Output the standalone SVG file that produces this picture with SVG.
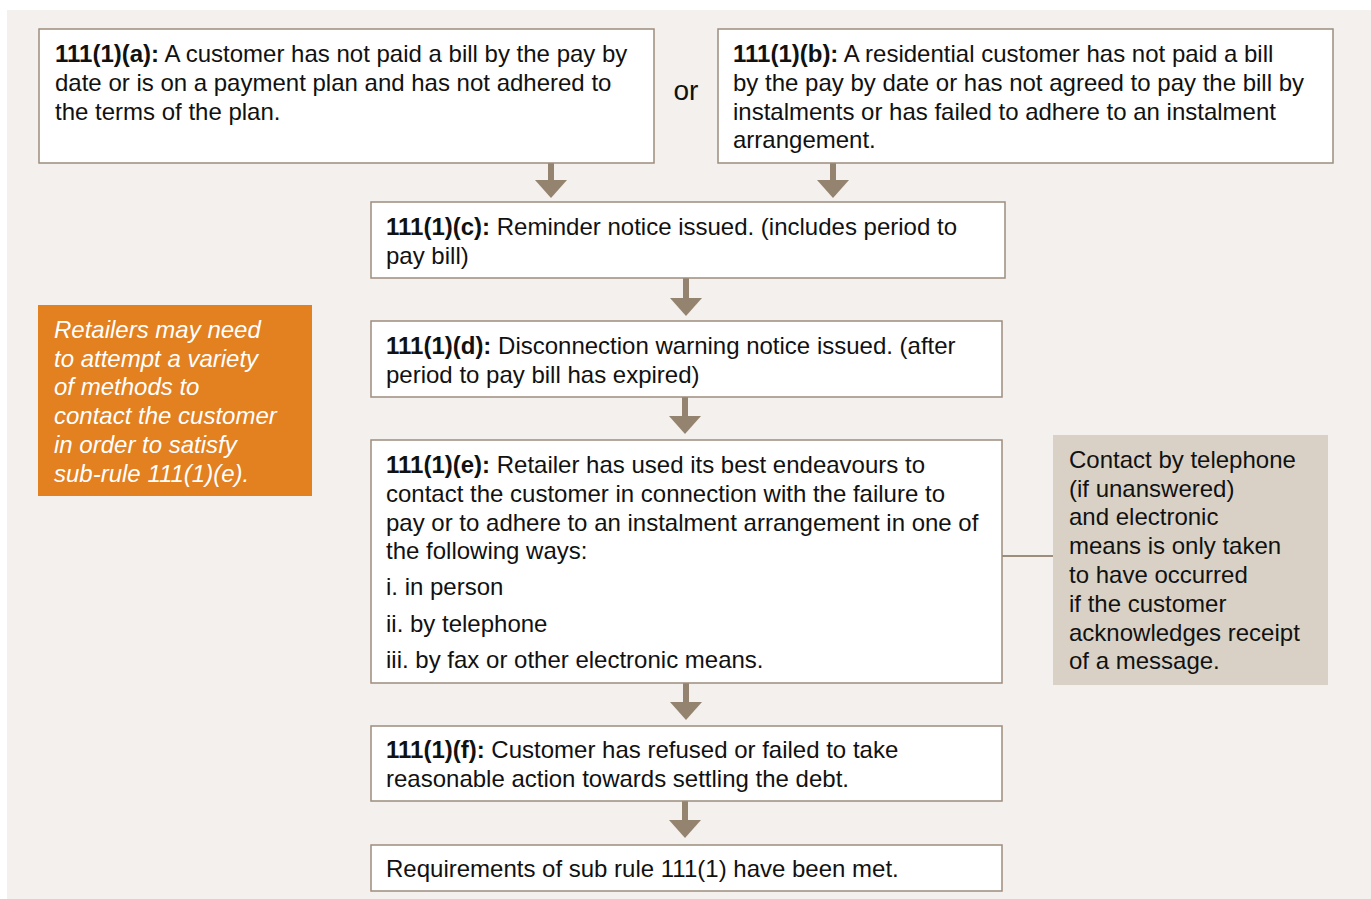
<svg xmlns="http://www.w3.org/2000/svg" width="1371" height="899" viewBox="0 0 1371 899">
<defs>
<style>
.box{fill:#ffffff;stroke:#9d8d7d;stroke-width:1.5}
.t{font-family:"Liberation Sans",Arial,sans-serif;font-size:24px;fill:#111111}
.b{font-weight:bold}
.or{font-family:"Liberation Sans",Arial,sans-serif;font-size:28px;fill:#111111}
.o{font-family:"Liberation Sans",Arial,sans-serif;font-size:24px;fill:#ffffff;font-style:italic}
.shaft{stroke:#94836f;stroke-width:6;fill:none}
.head{fill:#94836f}
</style>
</defs>
<rect x="0" y="0" width="1371" height="899" fill="#ffffff"/>
<rect x="7" y="10" width="1364" height="889" fill="#f4f0ed"/>

<g id="connectors">
<line class="shaft" x1="551" y1="163" x2="551" y2="182"/>
<polygon class="head" points="535,180 567,180 551,198"/>
<line class="shaft" x1="833" y1="163" x2="833" y2="182"/>
<polygon class="head" points="817,180 849,180 833,198"/>
<line class="shaft" x1="686" y1="278" x2="686" y2="300"/>
<polygon class="head" points="670,298 702,298 686,316"/>
<line class="shaft" x1="685" y1="397" x2="685" y2="418"/>
<polygon class="head" points="669,416 701,416 685,434"/>
<line class="shaft" x1="686" y1="683" x2="686" y2="704"/>
<polygon class="head" points="670,702 702,702 686,720"/>
<line class="shaft" x1="685" y1="801" x2="685" y2="822"/>
<polygon class="head" points="669,820 701,820 685,838"/>
<line x1="1002" y1="556" x2="1053" y2="556" stroke="#9d8d7d" stroke-width="2"/>
</g>

<g id="node-a">
<rect class="box" x="39" y="29" width="615" height="134"/>
<text class="t" x="55" y="62"><tspan class="b">111(1)(a):</tspan> A customer has not paid a bill by the pay by</text>
<text class="t" x="55" y="91">date or is on a payment plan and has not adhered to</text>
<text class="t" x="55" y="120">the terms of the plan.</text>
</g>

<g id="or-label">
<text class="or" x="686" y="100" text-anchor="middle">or</text>
</g>

<g id="node-b">
<rect class="box" x="718" y="29" width="615" height="134"/>
<text class="t" x="733" y="62"><tspan class="b">111(1)(b):</tspan> A residential customer has not paid a bill</text>
<text class="t" x="733" y="91">by the pay by date or has not agreed to pay the bill by</text>
<text class="t" x="733" y="120">instalments or has failed to adhere to an instalment</text>
<text class="t" x="733" y="148">arrangement.</text>
</g>

<g id="node-c">
<rect class="box" x="371" y="202" width="634" height="76"/>
<text class="t" x="386" y="235"><tspan class="b">111(1)(c):</tspan> Reminder notice issued. (includes period to</text>
<text class="t" x="386" y="264">pay bill)</text>
</g>

<g id="node-d">
<rect class="box" x="371" y="321" width="631" height="76"/>
<text class="t" x="386" y="354"><tspan class="b">111(1)(d):</tspan> Disconnection warning notice issued. (after</text>
<text class="t" x="386" y="383">period to pay bill has expired)</text>
</g>

<g id="node-e">
<rect class="box" x="371" y="440" width="631" height="243"/>
<text class="t" x="386" y="473"><tspan class="b">111(1)(e):</tspan> Retailer has used its best endeavours to</text>
<text class="t" x="386" y="502">contact the customer in connection with the failure to</text>
<text class="t" x="386" y="531">pay or to adhere to an instalment arrangement in one of</text>
<text class="t" x="386" y="559">the following ways:</text>
<text class="t" x="386" y="595">i. in person</text>
<text class="t" x="386" y="632">ii. by telephone</text>
<text class="t" x="386" y="668">iii. by fax or other electronic means.</text>
</g>

<g id="node-f">
<rect class="box" x="371" y="726" width="631" height="75"/>
<text class="t" x="386" y="758"><tspan class="b">111(1)(f):</tspan> Customer has refused or failed to take</text>
<text class="t" x="386" y="787">reasonable action towards settling the debt.</text>
</g>

<g id="node-g">
<rect class="box" x="371" y="845" width="631" height="46"/>
<text class="t" x="386" y="877">Requirements of sub rule 111(1) have been met.</text>
</g>

<g id="note-orange">
<rect x="38" y="305" width="274" height="191" fill="#e3801f"/>
<text class="o" x="54" y="338">Retailers may need</text>
<text class="o" x="54" y="367">to attempt a variety</text>
<text class="o" x="54" y="395">of methods to</text>
<text class="o" x="54" y="424">contact the customer</text>
<text class="o" x="54" y="453">in order to satisfy</text>
<text class="o" x="54" y="482">sub-rule 111(1)(e).</text>
</g>

<g id="note-grey">
<rect x="1053" y="435" width="275" height="250" fill="#d9d1c6"/>
<text class="t" x="1069" y="468">Contact by telephone</text>
<text class="t" x="1069" y="497">(if unanswered)</text>
<text class="t" x="1069" y="525">and electronic</text>
<text class="t" x="1069" y="554">means is only taken</text>
<text class="t" x="1069" y="583">to have occurred</text>
<text class="t" x="1069" y="612">if the customer</text>
<text class="t" x="1069" y="641">acknowledges receipt</text>
<text class="t" x="1069" y="669">of a message.</text>
</g>
</svg>
